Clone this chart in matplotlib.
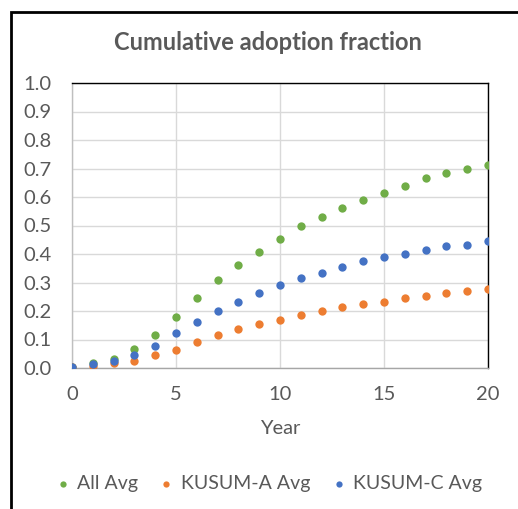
import matplotlib
matplotlib.use('Agg')
import matplotlib.pyplot as plt
from matplotlib.patches import Rectangle

plt.rcParams['font.family'] = ['Lato', 'DejaVu Sans']

years = list(range(21))
all_avg = [0.005, 0.019, 0.033, 0.066, 0.116, 0.180, 0.246, 0.310, 0.361, 0.407,
           0.453, 0.497, 0.530, 0.561, 0.588, 0.614, 0.640, 0.666, 0.685, 0.697, 0.711]
kusum_a = [0.003, 0.008, 0.016, 0.025, 0.045, 0.063, 0.090, 0.116, 0.136, 0.154,
           0.167, 0.187, 0.200, 0.213, 0.226, 0.232, 0.245, 0.252, 0.264, 0.271, 0.277]
kusum_c = [0.005, 0.013, 0.026, 0.045, 0.077, 0.122, 0.160, 0.200, 0.233, 0.264,
           0.290, 0.317, 0.335, 0.356, 0.374, 0.388, 0.400, 0.414, 0.427, 0.433, 0.447]
labels = ['All Avg', 'KUSUM-A Avg', 'KUSUM-C Avg']
colors = ['#70ad47', '#ed7d31', '#4472c4']

W, H = 518, 509
fig = plt.figure(figsize=(W/100, H/100), dpi=100)
ax = fig.add_axes([72/W, 1-368/H, (488-72)/W, (368-83)/H])

for ys, lab, c in zip([all_avg, kusum_a, kusum_c], labels, colors):
    ax.scatter(years, ys, s=36, color=c, label=lab, zorder=3, linewidths=0)

ax.set_xlim(0, 20)
ax.set_ylim(0, 1.0)
ax.set_xticks([0, 5, 10, 15, 20])
ax.set_yticks([i/10 for i in range(11)])
ax.set_yticklabels([f'{i/10:.1f}' for i in range(11)])
ax.grid(True, color='#d9d9d9', lw=1, zorder=0)
ax.tick_params(length=0, labelsize=14.5, colors='#595959')
ax.tick_params(axis='y', pad=15)
ax.tick_params(axis='x', pad=13)
ax.spines['top'].set_color('black')
ax.spines['right'].set_color('black')
ax.spines['left'].set_color('#bfbfbf')
ax.spines['bottom'].set_color('#a6a6a6')
for s in ax.spines.values():
    s.set_linewidth(1)

ax.set_xlabel('Year', fontsize=14.5, color='#595959', labelpad=12)
fig.text(268/W, 1-43/H, 'Cumulative adoption fraction', ha='center', va='center',
         fontsize=17, fontweight='bold', color='#595959')

leg = fig.legend(loc='center', bbox_to_anchor=(268/W, 1-484/H), ncol=3, frameon=False,
                 fontsize=14, handlelength=0.9, handletextpad=0.3, columnspacing=1.0,
                 markerscale=0.75)
for t in leg.get_texts():
    t.set_color('#595959')

fig.add_artist(Rectangle((11/W, -0.1), 1.2, 1 - 12/H + 0.1, transform=fig.transFigure,
                         fill=False, edgecolor='black', lw=2))

fig.savefig('out.png', dpi=100)
